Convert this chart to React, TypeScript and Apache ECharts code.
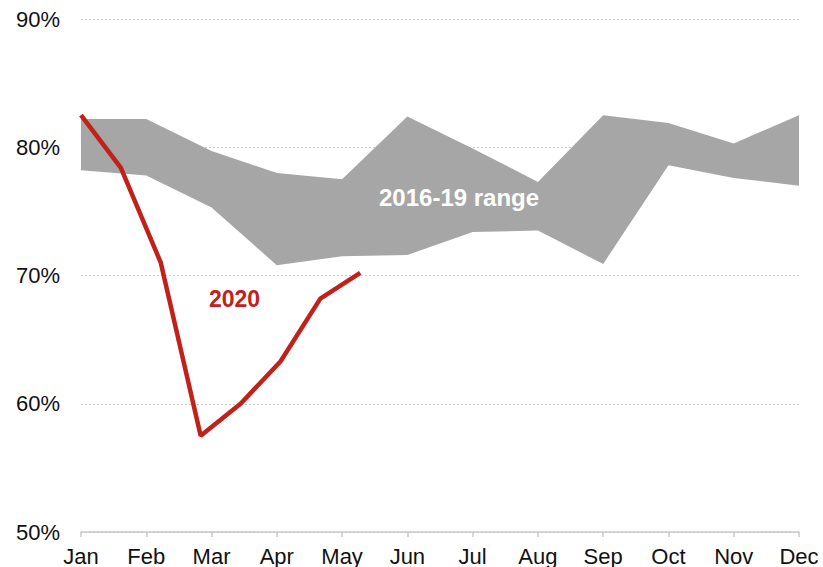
import React, { useEffect, useRef } from "react";
import * as echarts from "echarts";

const months = ["Jan", "Feb", "Mar", "Apr", "May", "Jun", "Jul", "Aug", "Sep", "Oct", "Nov", "Dec"];
const rangeLow = [78.2, 77.8, 75.3, 70.8, 71.5, 71.6, 73.4, 73.5, 70.9, 78.6, 77.6, 77.0];
const rangeHigh = [82.2, 82.2, 79.7, 78.0, 77.5, 82.4, 79.9, 77.3, 82.5, 81.9, 80.3, 82.5];
// 2020 series is sampled on a finer time step (19 steps across Jan..Dec)
const fineSteps = Array.from({ length: 19 }, (_, i) => String(i));
const values2020 = [82.5, 78.4, 71.0, 57.5, 60.0, 63.3, 68.2, 70.2];
const yTicks = { min: 50, max: 90, interval: 10 };

export default function App() {
  const ref = useRef<HTMLDivElement>(null);
  useEffect(() => {
    if (!ref.current) return;
    const chart = echarts.init(ref.current, undefined, { renderer: "svg" });
    const bandDiff = rangeHigh.map((h, i) => +(h - rangeLow[i]).toFixed(2));
    chart.setOption({
      animation: false,
      grid: { left: 81, right: 24, top: 19, bottom: 34, containLabel: false },
      xAxis: [
        {
          type: "category",
          data: months,
          boundaryGap: false,
          axisLine: { show: true, lineStyle: { color: "#c8c8c8", width: 1.5 } },
          axisTick: { show: true, length: 5, lineStyle: { color: "#c8c8c8", width: 1.5 } },
          axisLabel: {
            color: "#111",
            fontSize: 22,
            fontFamily: "Liberation Sans, Arial, sans-serif",
            margin: 13,
          },
          splitLine: { show: false },
        },
        {
          type: "category",
          data: fineSteps,
          boundaryGap: false,
          show: false,
        },
      ],
      yAxis: {
        type: "value",
        min: yTicks.min,
        max: yTicks.max,
        interval: yTicks.interval,
        axisLine: { show: false },
        axisTick: { show: false },
        axisLabel: {
          formatter: "{value}%",
          color: "#111",
          fontSize: 22,
          fontFamily: "Liberation Sans, Arial, sans-serif",
          margin: 21,
        },
        splitLine: { show: true, lineStyle: { color: "#c8c8c8", type: [2, 2], width: 1 } },
      },
      series: [
        {
          type: "line",
          data: rangeLow,
          stack: "band",
          symbol: "none",
          lineStyle: { opacity: 0 },
          silent: true,
        },
        {
          type: "line",
          data: bandDiff,
          stack: "band",
          symbol: "none",
          lineStyle: { opacity: 0 },
          areaStyle: { color: "#a6a6a6", opacity: 1 },
          silent: true,
        },
        {
          type: "line",
          xAxisIndex: 1,
          data: values2020,
          symbol: "none",
          lineStyle: { color: "#c0211a", width: 4.5 },
          z: 5,
        },
      ],
      graphic: [
        {
          type: "text",
          left: 379,
          top: 185,
          z: 10,
          style: {
            text: "2016-19 range",
            fill: "#ffffff",
            font: "bold 24px 'Liberation Sans', Arial, sans-serif",
          },
        },
        {
          type: "text",
          left: 209,
          top: 287,
          z: 10,
          style: {
            text: "2020",
            fill: "#c0211a",
            font: "bold 23px 'Liberation Sans', Arial, sans-serif",
          },
        },
      ],
    });
    return () => chart.dispose();
  }, []);
  return (
    <div
      ref={ref}
      style={{ position: "fixed", left: 0, top: 0, width: 823, height: 567, background: "#fff" }}
    />
  );
}
